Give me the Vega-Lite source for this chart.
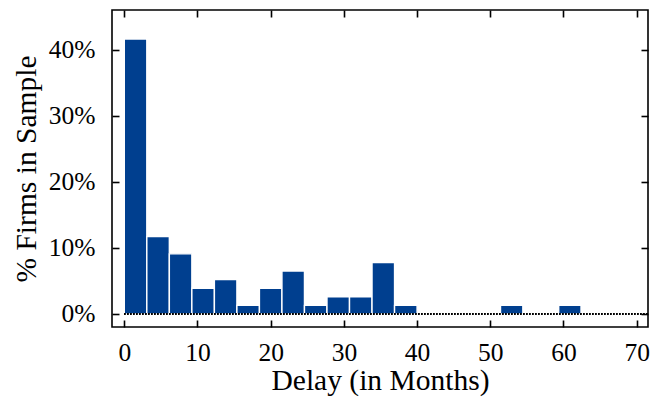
{
  "$schema": "https://vega.github.io/schema/vega-lite/v6.json",
  "width": 536,
  "height": 317,
  "autosize": {"type": "none"},
  "padding": {"left": 112, "top": 10, "right": 2, "bottom": 71},
  "background": "white",
  "config": {
    "font": "Liberation Serif",
    "view": {"stroke": "black", "strokeWidth": 1.6},
    "axis": {
      "domain": false,
      "grid": false,
      "tickColor": "black",
      "tickWidth": 1.6,
      "tickSize": -7,
      "labelFont": "Liberation Serif",
      "labelFontSize": 25.5,
      "labelColor": "black",
      "titleFont": "Liberation Serif",
      "titleFontSize": 29.5,
      "titleFontWeight": "normal",
      "titleColor": "black"
    }
  },
  "data": {
    "values": [
      {"start": 0, "end": 3.077, "pct": 41.6},
      {"start": 3.077, "end": 6.154, "pct": 11.7},
      {"start": 6.154, "end": 9.231, "pct": 9.1},
      {"start": 9.231, "end": 12.308, "pct": 3.9},
      {"start": 12.308, "end": 15.385, "pct": 5.2},
      {"start": 15.385, "end": 18.462, "pct": 1.3},
      {"start": 18.462, "end": 21.538, "pct": 3.9},
      {"start": 21.538, "end": 24.615, "pct": 6.5},
      {"start": 24.615, "end": 27.692, "pct": 1.3},
      {"start": 27.692, "end": 30.769, "pct": 2.6},
      {"start": 30.769, "end": 33.846, "pct": 2.6},
      {"start": 33.846, "end": 36.923, "pct": 7.8},
      {"start": 36.923, "end": 40.0, "pct": 1.3},
      {"start": 51.4, "end": 54.45, "pct": 1.3},
      {"start": 59.35, "end": 62.4, "pct": 1.3}
    ]
  },
  "resolve": {"axis": {"x": "independent", "y": "independent"}},
  "layer": [
    {
      "mark": {"type": "bar", "color": "#003f8f", "stroke": "white", "strokeWidth": 1.4},
      "encoding": {
        "x": {
          "field": "start",
          "type": "quantitative",
          "scale": {"domain": [-1.68, 71.55], "nice": false, "zero": false},
          "axis": {
            "orient": "bottom",
            "values": [0, 10, 20, 30, 40, 50, 60, 70],
            "labelPadding": 20,
            "title": "Delay (in Months)",
            "titlePadding": 1
          }
        },
        "x2": {"field": "end"},
        "y": {
          "field": "pct",
          "type": "quantitative",
          "scale": {"domain": [-1.97, 46.0], "nice": false, "zero": false},
          "axis": {
            "orient": "left",
            "values": [0, 10, 20, 30, 40],
            "labelExpr": "datum.value + '%'",
            "labelPadding": 24,
            "title": "% Firms in Sample",
            "titlePadding": 7
          }
        },
        "y2": {"datum": 0}
      }
    },
    {
      "mark": {"type": "rule", "color": "black", "strokeWidth": 0.8, "strokeDash": [1, 2]},
      "encoding": {
        "x": {
          "datum": 0,
          "type": "quantitative",
          "axis": {
            "orient": "top",
            "values": [0, 10, 20, 30, 40, 50, 60, 70],
            "labels": false,
            "title": null
          }
        },
        "x2": {"datum": 71.55},
        "y": {
          "datum": 0,
          "type": "quantitative",
          "axis": {
            "orient": "right",
            "values": [0, 10, 20, 30, 40],
            "labels": false,
            "title": null
          }
        }
      }
    }
  ]
}
